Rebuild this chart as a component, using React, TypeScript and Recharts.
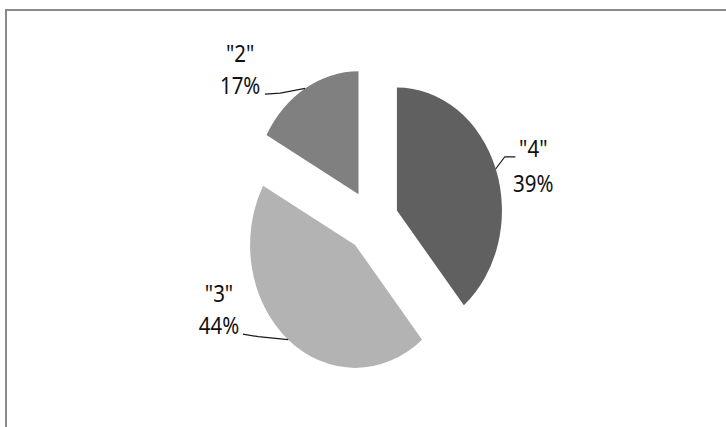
import React from 'react';
import { PieChart, Pie, Cell, Sector } from 'recharts';

// Share of answers per rating
const categories = ['4', '3', '2'];
const shares = [39, 44, 17];
const COLORS = ['#606060', '#b3b3b3', '#808080'];

const data = categories.map((name, i) => ({ name, value: shares[i] }));

const RADIAN = Math.PI / 180;
const EXPLODE = 31; // distance each slice is pulled out from the centre
const SCALE_X = 0.854; // the plot is drawn squeezed horizontally
const W = 850;
const H = 427;

const explodeOffset = (midAngle: number) => ({
  dx: EXPLODE * Math.cos(-midAngle * RADIAN),
  dy: EXPLODE * Math.sin(-midAngle * RADIAN),
});

const ExplodedSector = (props: any) => {
  const { cx, cy, midAngle, outerRadius, startAngle, endAngle, fill } = props;
  const { dx, dy } = explodeOffset(midAngle);
  return (
    <Sector
      cx={cx + dx}
      cy={cy + dy}
      innerRadius={0}
      outerRadius={outerRadius}
      startAngle={startAngle}
      endAngle={endAngle}
      fill={fill}
      stroke="none"
    />
  );
};

// Leader line bends and text placement, relative to the point where the line leaves the slice
const LABEL_LAYOUT = [
  { path: [[10.5, -12], [23, -12]], textDx: 44, lines: [-12, 23] },
  { path: [[-35, -3], [-53, -5.5]], textDx: -81, lines: [-38, -6] },
  { path: [[-29, 4.6], [-47, 5.6]], textDx: -76, lines: [-26.4, 5.6] },
];

const renderLabel = (props: any) => {
  const { cx, cy, midAngle, outerRadius, index, name, percent } = props;
  const { dx, dy } = explodeOffset(midAngle);
  const ax = cx + dx + outerRadius * Math.cos(-midAngle * RADIAN);
  const ay = cy + dy + outerRadius * Math.sin(-midAngle * RADIAN);
  const layout = LABEL_LAYOUT[index];
  const pts = [[ax, ay], ...layout.path.map(([px, py]) => [ax + px, ay + py])];
  const tx = ax + layout.textDx;
  return (
    <g key={`label-${index}`}>
      <polyline
        points={pts.map((p) => p.join(',')).join(' ')}
        fill="none"
        stroke="#1a1a1a"
        strokeWidth={1.2}
      />
      <text
        x={tx}
        y={ay + layout.lines[0]}
        textAnchor="middle"
        fill="#111"
        fontSize={24}
        fontFamily="'Noto Sans', sans-serif"
      >
        {`"${name}"`}
      </text>
      <text
        x={tx}
        y={ay + layout.lines[1]}
        textAnchor="middle"
        fill="#111"
        fontSize={24}
        fontFamily="'Noto Sans', sans-serif"
      >
        {`${Math.round(percent * 100)}%`}
      </text>
    </g>
  );
};

export default function App() {
  return (
    <div
      style={{
        position: 'absolute',
        left: 0,
        top: 0,
        width: 726,
        height: 427,
        overflow: 'hidden',
        background: '#fff',
      }}
    >
      <div
        style={{
          position: 'absolute',
          left: 5,
          top: 9,
          width: 760,
          height: 460,
          borderTop: '2px solid #8a8a8a',
          borderLeft: '2px solid #8a8a8a',
        }}
      />
      <div
        style={{
          position: 'absolute',
          left: 0,
          top: 0,
          width: W,
          height: H,
          transform: `scaleX(${SCALE_X})`,
          transformOrigin: '0 0',
        }}
      >
        <PieChart width={W} height={H} margin={{ top: 0, right: 0, bottom: 0, left: 0 }}>
          <Pie
            data={data}
            dataKey="value"
            nameKey="name"
            cx={435.6}
            cy={221}
            outerRadius={123}
            startAngle={90}
            endAngle={-270}
            stroke="none"
            isAnimationActive={false}
            shape={ExplodedSector}
            label={renderLabel}
            labelLine={false}
          >
            {data.map((d, i) => (
              <Cell key={d.name} fill={COLORS[i]} />
            ))}
          </Pie>
        </PieChart>
      </div>
    </div>
  );
}
